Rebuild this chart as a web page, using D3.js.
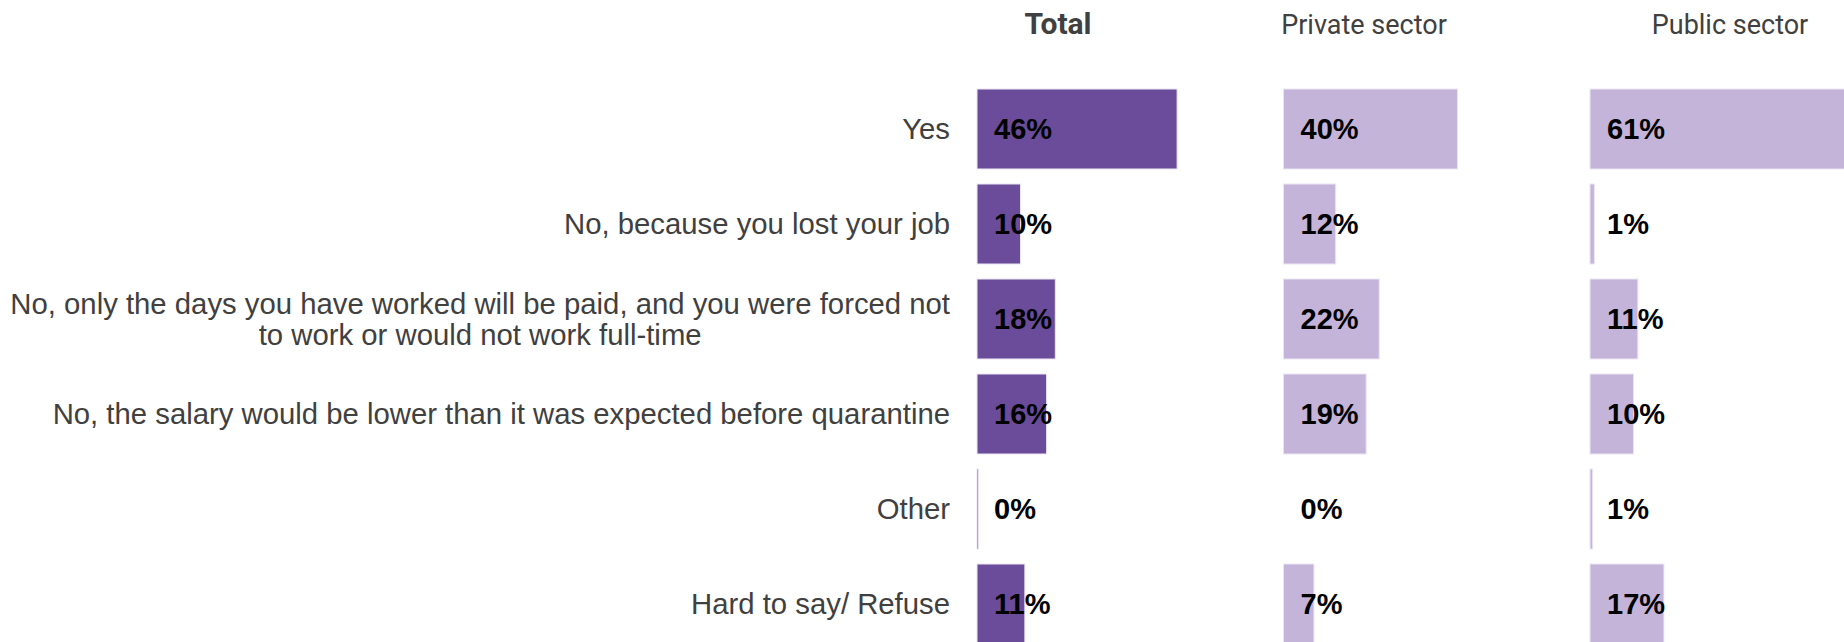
<!DOCTYPE html>
<html>
<head>
<meta charset="utf-8">
<script src="https://cdn.jsdelivr.net/npm/d3@7"></script>
<style>
  html, body { margin: 0; padding: 0; background: #ffffff; }
  svg { display: block; }
</style>
</head>
<body>
<svg id="chart" width="1844" height="642"></svg>
<script>
// ---- data ----
const categories = [
  "Yes",
  "No, because you lost your job",
  "No, only the days you have worked will be paid, and you were forced not|to work or would not work full-time",
  "No, the salary would be lower than it was expected before quarantine",
  "Other",
  "Hard to say/ Refuse"
];
const seriesNames = ["Total", "Private sector", "Public sector"];
const totalValues   = [46, 10, 18, 16, 0.3, 11];
const privateValues = [40, 12, 22, 19, 0, 7];
const publicValues  = [61, 1, 11, 10, 0.6, 17];
const totalLabels   = ["46%", "10%", "18%", "16%", "0%", "11%"];
const privateLabels = ["40%", "12%", "22%", "19%", "0%", "7%"];
const publicLabels  = ["61%", "1%", "11%", "10%", "1%", "17%"];

const series = [
  { name: seriesNames[0], values: totalValues,   labels: totalLabels },
  { name: seriesNames[1], values: privateValues, labels: privateLabels },
  { name: seriesNames[2], values: publicValues,  labels: publicLabels }
];

// ---- layout ----
const W = 1844, H = 642;
const panelX = [977, 1283.5, 1590];
const headerX = [1058, 1364, 1730];
const headerSize = [30, 27, 27];
const panelWidth = 435;
const barColors = ["#6a4c9a", "#c4b4d9", "#c4b4d9"];
const labelRight = 950;

const svg = d3.select("#chart");

const y = d3.scaleBand()
  .domain(categories)
  .range([89, 644])
  .paddingInner(0.158)
  .paddingOuter(0);

const x = d3.scaleLinear().domain([0, 100]).range([0, panelWidth]);

// category labels
const catG = svg.append("g");
categories.forEach(cat => {
  const lines = cat.split("|");
  const cy = y(cat) + y.bandwidth() / 2;
  const lh = 31;
  const t = catG.append("text")
    .attr("font-family", "'Liberation Sans', Arial, sans-serif")
    .attr("font-size", 29.3)
    .attr("fill", "#404040");
  const tspans = lines.map((ln, i) =>
    t.append("tspan")
      .attr("y", cy + (i - (lines.length - 1) / 2) * lh)
      .attr("dy", "0.35em")
      .text(ln));
  // right-align the block, center the lines within it
  const widths = tspans.map(ts => ts.node().getComputedTextLength());
  const maxW = d3.max(widths);
  const center = labelRight - maxW / 2;
  tspans.forEach(ts => ts.attr("x", center).attr("text-anchor", "middle"));
});

// panels
series.forEach((s, si) => {
  const g = svg.append("g").attr("transform", `translate(${panelX[si]},0)`);

  svg.append("text")
    .attr("x", headerX[si])
    .attr("y", 34)
    .attr("text-anchor", "middle")
    .attr("font-family", "Roboto, 'Noto Sans', sans-serif")
    .attr("font-size", headerSize[si])
    .attr("font-weight", si === 0 ? "bold" : "normal")
    .attr("fill", "#404040")
    .text(s.name);

  g.selectAll("rect")
    .data(categories)
    .join("rect")
    .attr("x", 0)
    .attr("y", d => y(d))
    .attr("width", (d, i) => x(s.values[i]))
    .attr("height", y.bandwidth())
    .attr("fill", barColors[si])
    .attr("stroke", (d, i) => s.values[i] > 0 ? "#ebe5f3" : "none")
    .attr("stroke-width", 1);

  g.selectAll("text.val")
    .data(categories)
    .join("text")
    .attr("class", "val")
    .attr("x", 17)
    .attr("y", d => y(d) + y.bandwidth() / 2)
    .attr("dy", "0.35em")
    .attr("font-family", "'Liberation Sans', Arial, sans-serif")
    .attr("font-size", 29)
    .attr("font-weight", "bold")
    .attr("fill", "#000000")
    .text((d, i) => s.labels[i]);
});
</script>
</body>
</html>
